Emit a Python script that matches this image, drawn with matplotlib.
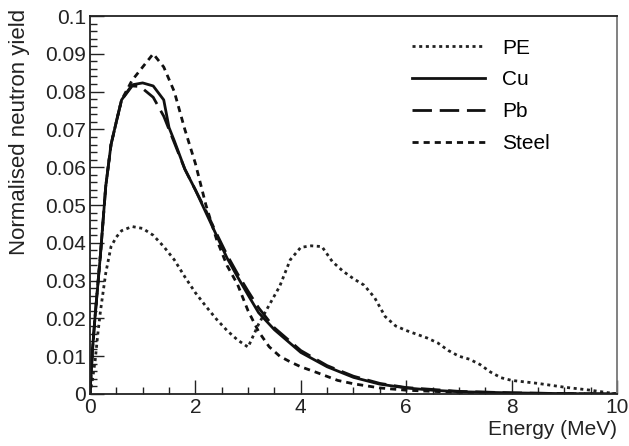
import numpy as np
import matplotlib.pyplot as plt
from matplotlib.ticker import MultipleLocator, FuncFormatter

plt.rcParams['font.family'] = ['Liberation Sans', 'DejaVu Sans']

##-----------------------------------------
## Data
##-----------------------------------------
e_pe = [0, 0.05, 0.1, 0.15, 0.2, 0.3, 0.4, 0.5, 0.6, 0.8, 1.0, 1.2, 1.4, 1.6, 1.8,
        2.0, 2.2, 2.4, 2.6, 2.8, 3.0, 3.2, 3.4, 3.6, 3.8, 4.0, 4.2, 4.4, 4.6, 4.8,
        5.0, 5.2, 5.4, 5.6, 5.8, 6.0, 6.2, 6.4, 6.6, 6.8, 7.0, 7.2, 7.4, 7.6, 7.8,
        8.0, 8.5, 9.0, 9.5, 10.0]
y_pe = [0, 0.004, 0.009, 0.016, 0.022, 0.032, 0.039, 0.0415, 0.0432, 0.0443, 0.0438,
        0.0420, 0.0390, 0.0355, 0.0310, 0.0268, 0.0232, 0.0198, 0.0168, 0.0143,
        0.0124, 0.0185, 0.0235, 0.0285, 0.0355, 0.0388, 0.0392, 0.0390, 0.0350,
        0.0325, 0.0305, 0.0288, 0.0255, 0.0205, 0.0180, 0.0168, 0.0158, 0.0148,
        0.0135, 0.0115, 0.0100, 0.0092, 0.0078, 0.0058, 0.0043, 0.0036, 0.0028,
        0.0018, 0.0010, 0.0]

e_cu = [0, 0.05, 0.1, 0.2, 0.3, 0.4, 0.5, 0.6, 0.8, 1.0, 1.2, 1.4, 1.5, 1.6, 1.8,
        2.0, 2.2, 2.4, 2.6, 2.8, 3.0, 3.2, 3.5, 4.0, 4.5, 5.0, 5.5, 6.0, 6.5, 7.0,
        8.0, 9.0, 10.0]
y_cu = [0, 0.012, 0.021, 0.037, 0.055, 0.066, 0.072, 0.0778, 0.0818, 0.0823, 0.0815,
        0.0778, 0.0705, 0.0670, 0.0595, 0.0540, 0.0480, 0.0420, 0.0360, 0.0310,
        0.0262, 0.0215, 0.0170, 0.0110, 0.0072, 0.0044, 0.0026, 0.0016, 0.0010,
        0.0006, 0.0003, 0.0001, 0.0]

e_pb = [0, 0.05, 0.1, 0.2, 0.3, 0.4, 0.5, 0.6, 0.8, 0.9, 1.0, 1.2, 1.4, 1.6, 1.8,
        2.0, 2.2, 2.4, 2.6, 2.8, 3.0, 3.2, 3.5, 4.0, 4.5, 5.0, 5.5, 6.0, 7.0, 8.0,
        9.0, 10.0]
y_pb = [0, 0.012, 0.021, 0.037, 0.055, 0.066, 0.072, 0.0778, 0.0815, 0.0814, 0.0808,
        0.0785, 0.0735, 0.0665, 0.0595, 0.0540, 0.0485, 0.0425, 0.0368, 0.0318,
        0.0272, 0.0228, 0.0175, 0.0115, 0.0075, 0.0047, 0.0028, 0.0017, 0.0007,
        0.0003, 0.0001, 0.0]

e_st = [0, 0.05, 0.1, 0.2, 0.3, 0.4, 0.5, 0.6, 0.8, 1.0, 1.2, 1.4, 1.6, 1.8, 2.0,
        2.2, 2.4, 2.6, 2.8, 3.0, 3.2, 3.4, 3.6, 3.8, 4.0, 4.3, 4.7, 5.0, 5.5, 6.0,
        7.0, 8.0, 10.0]
y_st = [0, 0.012, 0.021, 0.037, 0.055, 0.066, 0.072, 0.0778, 0.0830, 0.0865, 0.0900,
        0.0865, 0.0800, 0.0700, 0.0610, 0.0500, 0.0410, 0.0340, 0.0290, 0.0220,
        0.0165, 0.0125, 0.0100, 0.0085, 0.0072, 0.0057, 0.0036, 0.0027, 0.0016,
        0.0010, 0.0004, 0.0001, 0.0]

##-----------------------------------------
## Plot
##-----------------------------------------
fig = plt.figure(figsize=(6.29, 4.46), dpi=100)
ax = fig.add_axes([0.143, 0.1166, 0.838, 0.8475])

lw = 2.0
ax.plot(e_pe, y_pe, color='#222222', lw=lw, dashes=(1.1, 1.3), label='PE')
ax.plot(e_cu, y_cu, color='#111111', lw=lw, label='Cu')
ax.plot(e_pb, y_pb, color='#111111', lw=lw, dashes=(7.0, 2.8), label='Pb')
ax.plot(e_st, y_st, color='#111111', lw=lw, dashes=(2.2, 1.8), label='Steel')

ax.set_xlim(0, 10)
ax.set_ylim(0, 0.1)
ax.xaxis.set_major_locator(MultipleLocator(2))
ax.xaxis.set_minor_locator(MultipleLocator(0.5))
ax.yaxis.set_major_locator(MultipleLocator(0.01))
ax.yaxis.set_minor_locator(MultipleLocator(0.002))
ax.yaxis.set_major_formatter(FuncFormatter(lambda v, p: '%g' % round(v, 3)))
ax.tick_params(which='both', direction='in', top=False, right=False,
               labelsize=15, colors='#222222')
ax.tick_params(which='major', length=10, width=1.0, pad=3)
ax.tick_params(which='minor', length=5, width=1.0)
for s in ax.spines.values():
    s.set_linewidth(1.3)
    s.set_color('#222222')
ax.spines['right'].set_color('#777777')

ax.set_xlabel('Energy (MeV)', fontsize=15, loc='right', labelpad=2, color='#222222')
ax.set_ylabel('Normalised neutron yield', fontsize=16, loc='top', color='#222222')
ax.yaxis.set_label_coords(-0.113, 1.02)

ax.legend(frameon=False, fontsize=15, loc='upper left', bbox_to_anchor=(0.575, 0.99),
          handlelength=3.5, handletextpad=0.85, labelspacing=0.62)

plt.savefig('out.png', dpi=100)
